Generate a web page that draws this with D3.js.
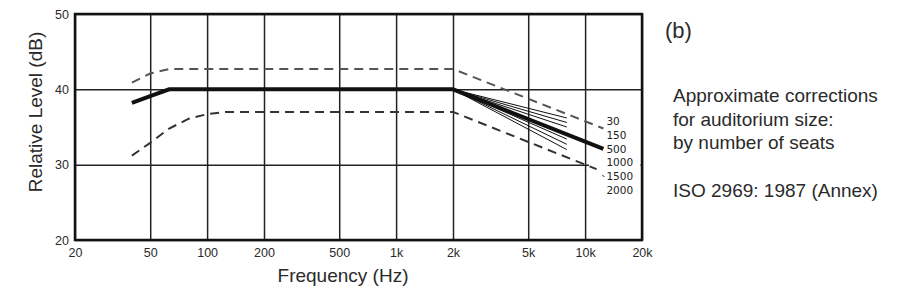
<!DOCTYPE html>
<html>
<head>
<meta charset="utf-8">
<script src="https://cdn.jsdelivr.net/npm/d3@7"></script>
<style>
    body { margin: 0; background: #fff; }
    text { font-family: "Liberation Sans", Arial, sans-serif; fill: #2a2a2a; }
    .seat-label { font-family: "DejaVu Sans", sans-serif; font-size: 10.5px; fill: #222; }
</style>
</head>
<body>
<div id="chart"></div>
<script>
// Axis ticks
const xTicks = [20, 50, 100, 200, 500, 1000, 2000, 5000, 10000, 20000];
const xTickLabels = ["20", "50", "100", "200", "500", "1k", "2k", "5k", "10k", "20k"];
const yTicks = [20, 30, 40, 50];

// Nominal curve (500 seats), thick line
const nominalFreq = [40, 50, 63, 2000, 12500];
const nominalLevel = [38.2, 39.1, 40, 40, 32.1];

// Tolerance limits (dashed)
const upperFreq = [40, 50, 63, 2000, 12500];
const upperLevel = [40.9, 42.1, 42.7, 42.7, 34.8];
const lowerFreq = [40, 50, 63, 80, 100, 125, 2000, 11500];
const lowerLevel = [31.2, 32.9, 34.8, 36.1, 36.7, 37.0, 37.0, 29.4];

// Room size corrections (thin fan lines from 2k to 8k)
const fanFreq = [2000, 8000];
const fanStartLevel = 40;
const fanEndLevels = [36.2, 35.6, 35.0, 33.4, 32.7, 32.0];

// Seat labels at right of curves
const seatLabels = ["30", "150", "500", "1000", "1500", "2000"];

// Note text
const noteLines = ["Approximate corrections", "for auditorium size:", "by number of seats", "", "ISO 2969: 1987 (Annex)"];

const W = 900, H = 296;
const margin = { top: 14, right: 258, bottom: 56, left: 75 };
const width = W - margin.left - margin.right;
const height = H - margin.top - margin.bottom;

const svg = d3.select("#chart")
    .append("svg")
    .attr("width", W)
    .attr("height", H);

const g = svg.append("g")
    .attr("transform", `translate(${margin.left},${margin.top})`);

// Scales
const x = d3.scaleLog()
    .domain([20, 20000])
    .range([0, width]);

const y = d3.scaleLinear()
    .domain([20, 50])
    .range([height, 0]);

// Grid lines
g.append("g")
    .attr("class", "grid")
    .attr("transform", `translate(0,${height})`)
    .call(d3.axisBottom(x).tickValues(xTicks).tickSize(-height).tickFormat(""))
    .call(s => s.select(".domain").remove())
    .selectAll("line")
    .attr("stroke", "#222")
    .attr("stroke-width", 1.5);

g.append("g")
    .attr("class", "grid")
    .call(d3.axisLeft(y).tickValues(yTicks).tickSize(-width).tickFormat(""))
    .call(s => s.select(".domain").remove())
    .selectAll("line")
    .attr("stroke", "#222")
    .attr("stroke-width", 1.5);

// Tick labels
g.append("g")
    .attr("transform", `translate(0,${height})`)
    .call(d3.axisBottom(x).tickValues(xTicks).tickSize(0).tickPadding(8)
        .tickFormat((d, i) => xTickLabels[i]))
    .call(s => s.select(".domain").remove())
    .selectAll("text")
    .style("font-size", "12.5px")
    .style("font-family", "Liberation Sans, Arial, sans-serif")
    .attr("fill", "#2a2a2a");

g.append("g")
    .call(d3.axisLeft(y).tickValues(yTicks).tickSize(0).tickPadding(6))
    .call(s => s.select(".domain").remove())
    .selectAll("text")
    .style("font-size", "12.5px")
    .style("font-family", "Liberation Sans, Arial, sans-serif")
    .attr("fill", "#2a2a2a");

// White box behind the seat labels
g.append("rect")
    .attr("x", x(10000) + 4)
    .attr("y", y(35.5))
    .attr("width", width - x(10000) - 5.5)
    .attr("height", y(27) - y(35.5))
    .attr("fill", "#fff");

// Frame
g.append("rect")
    .attr("width", width)
    .attr("height", height)
    .attr("fill", "none")
    .attr("stroke", "#111")
    .attr("stroke-width", 2.5);

const line = d3.line()
    .x(d => x(d[0]))
    .y(d => y(d[1]));

// Fan of thin lines
fanEndLevels.forEach(l => {
    g.append("path")
        .datum([[fanFreq[0], fanStartLevel], [fanFreq[1], l]])
        .attr("d", line)
        .attr("fill", "none")
        .attr("stroke", "#111")
        .attr("stroke-width", 1);
});

// Tolerance dashed lines
g.append("path")
    .datum(d3.zip(upperFreq, upperLevel))
    .attr("d", line)
    .attr("fill", "none")
    .attr("stroke", "#555")
    .attr("stroke-width", 2)
    .attr("stroke-dasharray", "9,6");

g.append("path")
    .datum(d3.zip(lowerFreq, lowerLevel))
    .attr("d", line)
    .attr("fill", "none")
    .attr("stroke", "#333")
    .attr("stroke-width", 2)
    .attr("stroke-dasharray", "9,6");

// Nominal curve
g.append("path")
    .datum(d3.zip(nominalFreq, nominalLevel))
    .attr("d", line)
    .attr("fill", "none")
    .attr("stroke", "#111")
    .attr("stroke-width", 4);

// Seat labels
const labelX = x(12500) + 3;
g.selectAll(".seat-label")
    .data(seatLabels)
    .enter().append("text")
    .attr("class", "seat-label")
    .attr("x", labelX)
    .attr("y", (d, i) => 111 + i * 13.8)
    .text(d => d);

// small leader mark before 1500
g.append("line")
    .attr("x1", labelX - 4).attr("y1", 161)
    .attr("x2", labelX - 2).attr("y2", 163)
    .attr("stroke", "#222")
    .attr("stroke-width", 1);

// Axis titles
svg.append("text")
    .attr("transform", "translate(42,112) rotate(-90)")
    .attr("text-anchor", "middle")
    .style("font-size", "19px")
    .text("Relative Level (dB)");

svg.append("text")
    .attr("x", 343)
    .attr("y", 282)
    .attr("text-anchor", "middle")
    .style("font-size", "19px")
    .text("Frequency (Hz)");

// Panel label and note
svg.append("text")
    .attr("x", 665)
    .attr("y", 38)
    .style("font-size", "22px")
    .text("(b)");

svg.selectAll(".note")
    .data(noteLines)
    .enter().append("text")
    .attr("class", "note")
    .attr("x", 673)
    .attr("y", (d, i) => 102 + i * 23.7)
    .style("font-size", "19px")
    .text(d => d);
</script>
</body>
</html>
